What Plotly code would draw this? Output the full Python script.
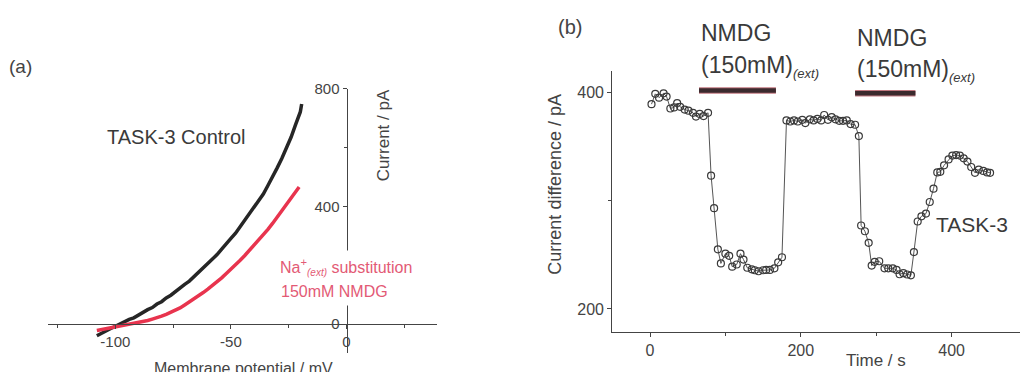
import plotly.graph_objects as go

W, H = 1020, 372

# ---- panel (a): I-V ramps ----
v_control = [-108, -106, -104, -102, -100, -98, -96, -94, -92, -90, -88, -86, -84, -82, -80,
             -78, -76, -74, -72, -70, -68, -66, -64, -62, -60, -58, -56, -54, -52, -50,
             -48, -46, -44, -42, -40, -38, -36, -34, -32, -30, -28, -26, -24, -22, -20, -19.4]
i_control = [-40, -31, -21, -15, -8, 1, 7, 16, 21, 31, 38, 49, 56, 68, 76,
             89, 98, 111, 121, 135, 146, 161, 173, 190, 203, 221, 236, 255, 271, 291,
             309, 331, 350, 374, 394, 420, 442, 471, 499, 531, 563, 599, 635, 679, 721, 748]

v_nmdg = [-108, -106, -104, -102, -100, -98, -96, -94, -92, -90, -88, -86, -84, -82, -80,
          -78, -76, -74, -72, -70, -68, -66, -64, -62, -60, -58, -56, -54, -52, -50,
          -48, -46, -44, -42, -40, -38, -36, -34, -32, -30, -28, -26, -24, -22, -20.5]
i_nmdg = [-22, -19, -13, -11, -7, -5, -2, 0, 3, 5, 9, 12, 17, 21, 27,
          33, 40, 46, 55, 65, 75, 85, 96, 107, 119, 131, 144, 157, 172, 186,
          201, 217, 233, 250, 267, 285, 303, 322, 342, 363, 385, 407, 429, 450, 466]

# ---- panel (b): current difference time course ----
t_s = [2, 7, 12, 18, 22, 27, 32, 36, 40, 46, 51, 57, 61, 66, 71, 77,
       81, 85, 90, 94, 100, 105, 109, 115, 120, 124, 129, 135, 139, 144, 150, 154, 159, 165, 170, 175,
       181, 186, 191, 196, 202, 206, 212, 217, 222, 227, 231, 236, 241, 246, 251, 256, 261, 266, 272, 277,
       280, 285, 290, 294, 298, 304, 311, 316, 322, 327, 331, 336, 341, 346,
       350, 355, 360, 366, 371, 376, 381, 385, 390, 396, 401, 406, 411, 416, 421, 426, 431, 436, 442, 447, 451]
i_diff = [389, 398.5, 395, 399, 396, 385, 386, 390, 386.5, 384, 383, 381, 377.5, 380, 378, 381,
          323, 293, 255, 242, 251, 249, 239, 241, 251, 245.6, 238, 236.6, 235.7, 234.8, 235.7, 236, 236, 237.5, 243, 247.7,
          374, 373, 374, 373, 374.5, 371.5, 375, 374, 375.4, 374, 379, 374.5, 377, 375, 373.6, 373.6, 374, 370.6, 370, 359.5,
          277, 271.7, 261, 240, 243.5, 244, 237.5, 237.5, 237.5, 236, 232, 233, 231.8, 231,
          252.5, 280.7, 285.5, 288, 298.7, 311, 326, 326.5, 332.5, 338, 341.5, 342, 341.5, 339, 336, 331, 325.6, 328.6, 327.4, 326, 325.6]

# NMDG application periods (s) and the level of the bars drawn above the trace
nmdg_start = [65, 272]
nmdg_end = [167, 352]
nmdg_bar_level = [401.5, 399]

FONT = "Liberation Sans, Arial, sans-serif"
AX = "#444444"

fig = go.Figure()

fig.add_trace(go.Scatter(x=v_control, y=i_control, mode="lines",
                         line=dict(color="#262626", width=3.5), xaxis="x", yaxis="y"))
fig.add_trace(go.Scatter(x=v_nmdg, y=i_nmdg, mode="lines",
                         line=dict(color="#e8344e", width=3.5), xaxis="x", yaxis="y"))

for s, e, lv in zip(nmdg_start, nmdg_end, nmdg_bar_level):
    fig.add_trace(go.Scatter(x=[s, e], y=[lv, lv], mode="lines",
                             line=dict(color="#c27880", width=6.5), xaxis="x2", yaxis="y2"))
    fig.add_trace(go.Scatter(x=[s, e], y=[lv, lv], mode="lines",
                             line=dict(color="#3b2a2e", width=4.5), xaxis="x2", yaxis="y2"))

fig.add_trace(go.Scatter(x=t_s, y=i_diff, mode="lines+markers",
                         line=dict(color="#555555", width=1),
                         marker=dict(symbol="circle-open", size=7, color="#3a3a3a",
                                     line=dict(width=1.2)),
                         xaxis="x2", yaxis="y2"))


def px_x(p):
    return p / W


def px_y(p):
    return 1 - p / H


common_axis = dict(showgrid=False, zeroline=False, showline=True, linecolor=AX, linewidth=1.3,
                   ticks="outside", ticklen=4, tickwidth=1.2, tickcolor=AX,
                   tickfont=dict(family=FONT, size=15, color=AX))

fig.update_layout(
    width=W, height=H, margin=dict(l=0, r=0, t=0, b=0),
    paper_bgcolor="white", plot_bgcolor="white", showlegend=False,
    font=dict(family=FONT, color=AX),
    xaxis=dict(common_axis, domain=[px_x(48.3), px_x(436.7)], range=[-129, 39],
               anchor="free", position=px_y(322.7),
               tickvals=[-100, -50, 0], ticktext=["-100", "-50", "0"],
               minor=dict(tickvals=[-125, -75, -25, 25], ticklen=3, tickcolor=AX, ticks="outside")),
    yaxis=dict(common_axis, domain=[px_y(353), px_y(81.7)], range=[-100, 800],
               anchor="free", position=px_x(346.7),
               tickvals=[0, 400, 800],
               minor=dict(tickvals=[200, 600], ticklen=3, tickcolor=AX, ticks="outside")),
    xaxis2=dict(common_axis, domain=[px_x(612.3), 1.0], range=[-50, 490.7], anchor="y2",
                tickvals=[0, 200, 400], tickfont=dict(family=FONT, size=16, color=AX),
                minor=dict(tickvals=[100, 300], ticklen=3, tickcolor=AX, ticks="outside")),
    yaxis2=dict(common_axis, domain=[px_y(330.7), px_y(63.3)], range=[179, 419.8], anchor="x2",
                tickvals=[200, 400], tickfont=dict(family=FONT, size=16, color=AX),
                minor=dict(tickvals=[300], ticklen=3, tickcolor=AX, ticks="outside")),
)


def note(text, x, y, size, color=AX, xanchor="center", yanchor="middle", angle=0, **kw):
    fig.add_annotation(text=text, x=x, y=y, xref="paper", yref="paper", showarrow=False,
                       xanchor=xanchor, yanchor=yanchor, textangle=angle,
                       font=dict(family=FONT, size=size, color=color), **kw)


# panel letters
note("(a)", px_x(20), px_y(59), 19)
note("(b)", px_x(570), px_y(18), 20)

# panel (a) labels
note("TASK-3 Control", px_x(176.5), px_y(131), 20, color="#3a3a3a")
note("Membrane potential / mV", px_x(243), px_y(368), 16)
note("Current / pA", px_x(383), px_y(129.5), 17, angle=-90)
note("Na<sup>+</sup><sub><span style='font-size:10px'><i>(ext)</i></span></sub> substitution",
     px_x(274), px_y(264), 16, color="#e35a75", xanchor="left", bgcolor="white", borderpad=5)
note("150mM NMDG", px_x(275), px_y(289), 16, color="#e35a75", xanchor="left",
     bgcolor="white", borderpad=5)

# panel (b) labels
note("Current difference / pA", px_x(555), px_y(180), 18, angle=-90)
note("Time / s", px_x(876), px_y(360), 17)
note("TASK-3", px_x(971.5), px_y(221), 21, color="#3a3a3a")

nmdg_label_y = [(25, 59), (30, 63)]
for s, (y1, y2) in zip(nmdg_start, nmdg_label_y):
    fig.add_annotation(text="NMDG", x=s, xref="x2", y=px_y(y1), yref="paper",
                       xanchor="left", yanchor="middle", showarrow=False,
                       font=dict(family=FONT, size=23, color="#3a3a3a"))
    fig.add_annotation(text="(150mM)<sub><span style='font-size:13px'><i>(ext)</i></span></sub>",
                       x=s, xref="x2", y=px_y(y2), yref="paper",
                       xanchor="left", yanchor="middle", showarrow=False,
                       font=dict(family=FONT, size=23, color="#3a3a3a"))

fig.write_html("out.html")
